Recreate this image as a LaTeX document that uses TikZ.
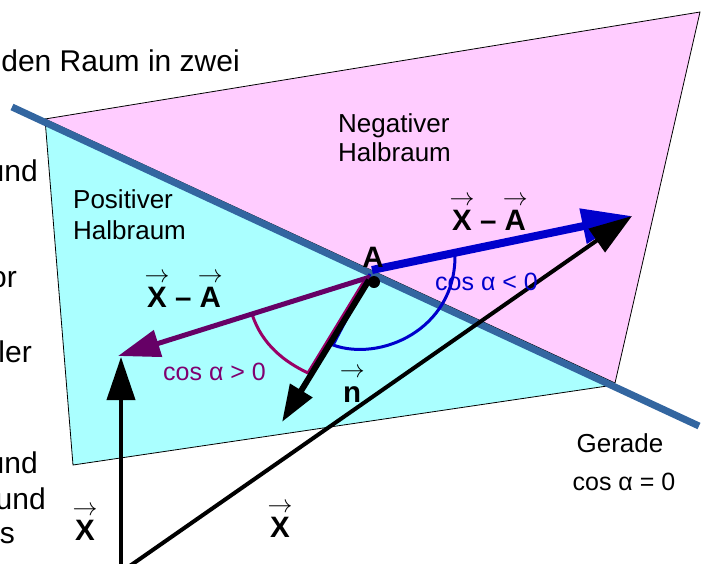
\documentclass[tikz,border=0pt]{standalone}
\usepackage{fontspec}
\setmainfont{Liberation Sans}
\usetikzlibrary{arrows.meta}
\definecolor{cyanfill}{RGB}{170,255,255}
\definecolor{pinkfill}{RGB}{255,204,255}
\definecolor{geradec}{RGB}{51,102,160}
\definecolor{vblue}{RGB}{0,0,204}
\definecolor{vpurple}{RGB}{102,0,102}
\definecolor{spurple}{RGB}{153,0,102}
\definecolor{tpurple}{RGB}{128,0,112}
\newcommand{\vecarrow}[1]{\setbox0\hbox{#1}\rlap{\hbox to \wd0{\hss\raisebox{25pt}{\fontsize{25}{25}\selectfont$\rightarrow$}\hss}}\box0\relax}
\tikzset{
  lbl/.style={inner sep=0pt, font=\fontsize{26}{31}\selectfont},
  coslbl/.style={inner sep=0pt, font=\fontsize{25}{30}\selectfont},
  vlbl/.style={inner sep=0pt, font=\fontsize{29.5}{34}\selectfont\bfseries},
  cut/.style={inner sep=0pt, font=\fontsize{30}{36}\selectfont, anchor=base east},
  halfspace/.style={draw=black, line width=0.8pt},
}
\begin{document}
\begin{tikzpicture}[x=1pt,y=-1pt]
\useasboundingbox (0,0) rectangle (701,563);
\clip (0,0) rectangle (701,563);
% half spaces
\fill[pinkfill] (45,119) -- (700,12) -- (615,383) -- cycle;
\draw[halfspace] (45,119) -- (700,12) -- (615,383);
\fill[cyanfill] (45,119) -- (614,385) -- (73,465) -- cycle;
\draw[halfspace] (614,385) -- (73,465) -- (45,119);
\draw[halfspace] (45,119) -- (615,383);
% Gerade
\coordinate (G1) at (12,107);
\coordinate (G2) at (699,426);
\draw[geradec, line width=7pt] (G1) -- (G2);
% cut-off slide text
\node[cut] (t1) at (240,71) {den Raum in zwei};
\node[cut] (t2) at (38,181) {und};
\node[cut] (t3) at (17,287) {or};
\node[cut] (t4) at (32,362) {ler};
\node[cut] (t5) at (38,473) {und};
\node[cut] (t6) at (46,509) {und};
\node[cut] (t7) at (15,543) {s};
% coordinates
\coordinate (A) at (374,282);
\coordinate (Ab) at (372,270);
\coordinate (Ap) at (370,277);
\coordinate (An) at (369,280);
\coordinate (T) at (632,216);
\coordinate (Tp) at (118,356);
\coordinate (Tn) at (282,422);
\coordinate (O1) at (121,570);
\coordinate (O2) at (124,570);
\coordinate (Tv) at (121,357);
% angle sectors
\draw[spurple, line width=3pt, line join=round] (Ap) -- (252,314) .. controls (262,345) and (285,362) .. (308,373) -- (366,278);
\draw[vblue, line width=3pt, line join=round] (370,274) -- (333,345) .. controls (380,362) and (455,330) .. (455,256);
% vectors
\draw[vblue, line width=8pt, -{Triangle[length=50pt,width=34pt]}] (Ab) -- (T);
\draw[vpurple, line width=5pt, -{Triangle[length=42pt,width=27pt]}] (Ap) -- (Tp);
\draw[black, line width=6pt, -{Triangle[length=37pt,width=25pt]}] (An) -- (Tn);
\draw[black, line width=4pt, -{Triangle[length=43pt,width=28pt]}] (O2) -- (T);
\draw[black, line width=4pt, -{Triangle[length=43pt,width=28pt]}] (O1) -- (Tv);
\fill[black] (A) circle (6);
% labels
\node[lbl, anchor=base west] (neg1) at (338,132) {Negativer};
\node[lbl, anchor=base west] (neg2) at (338,161) {Halbraum};
\node[lbl, anchor=base west] (pos1) at (73,208) {Positiver};
\node[lbl, anchor=base west] (pos2) at (73,239) {Halbraum};
\node[lbl, anchor=base] (ger) at (620,452) {Gerade};
\node[coslbl, anchor=base] (cos0) at (624,490) {cos α = 0};
\node[coslbl, anchor=base west, text=tpurple] (cospos) at (163,380) {cos α > 0};
\node[coslbl, anchor=base west, text=vblue] (cosneg) at (435,290) {cos α < 0};
\node[vlbl, anchor=base] (lA) at (373,267) {A};
\node[vlbl, anchor=base west] (xa1) at (452,230) {\vecarrow{X} – \vecarrow{A}};
\node[vlbl, anchor=base west] (xa2) at (147,307) {\vecarrow{X} – \vecarrow{A}};
\node[vlbl, anchor=base west] (ln) at (343,402) {\vecarrow{n}};
\node[vlbl, anchor=base west] (lx1) at (75,540) {\vecarrow{X}};
\node[vlbl, anchor=base west] (lx2) at (270,537) {\vecarrow{X}};
\end{tikzpicture}
\end{document}
